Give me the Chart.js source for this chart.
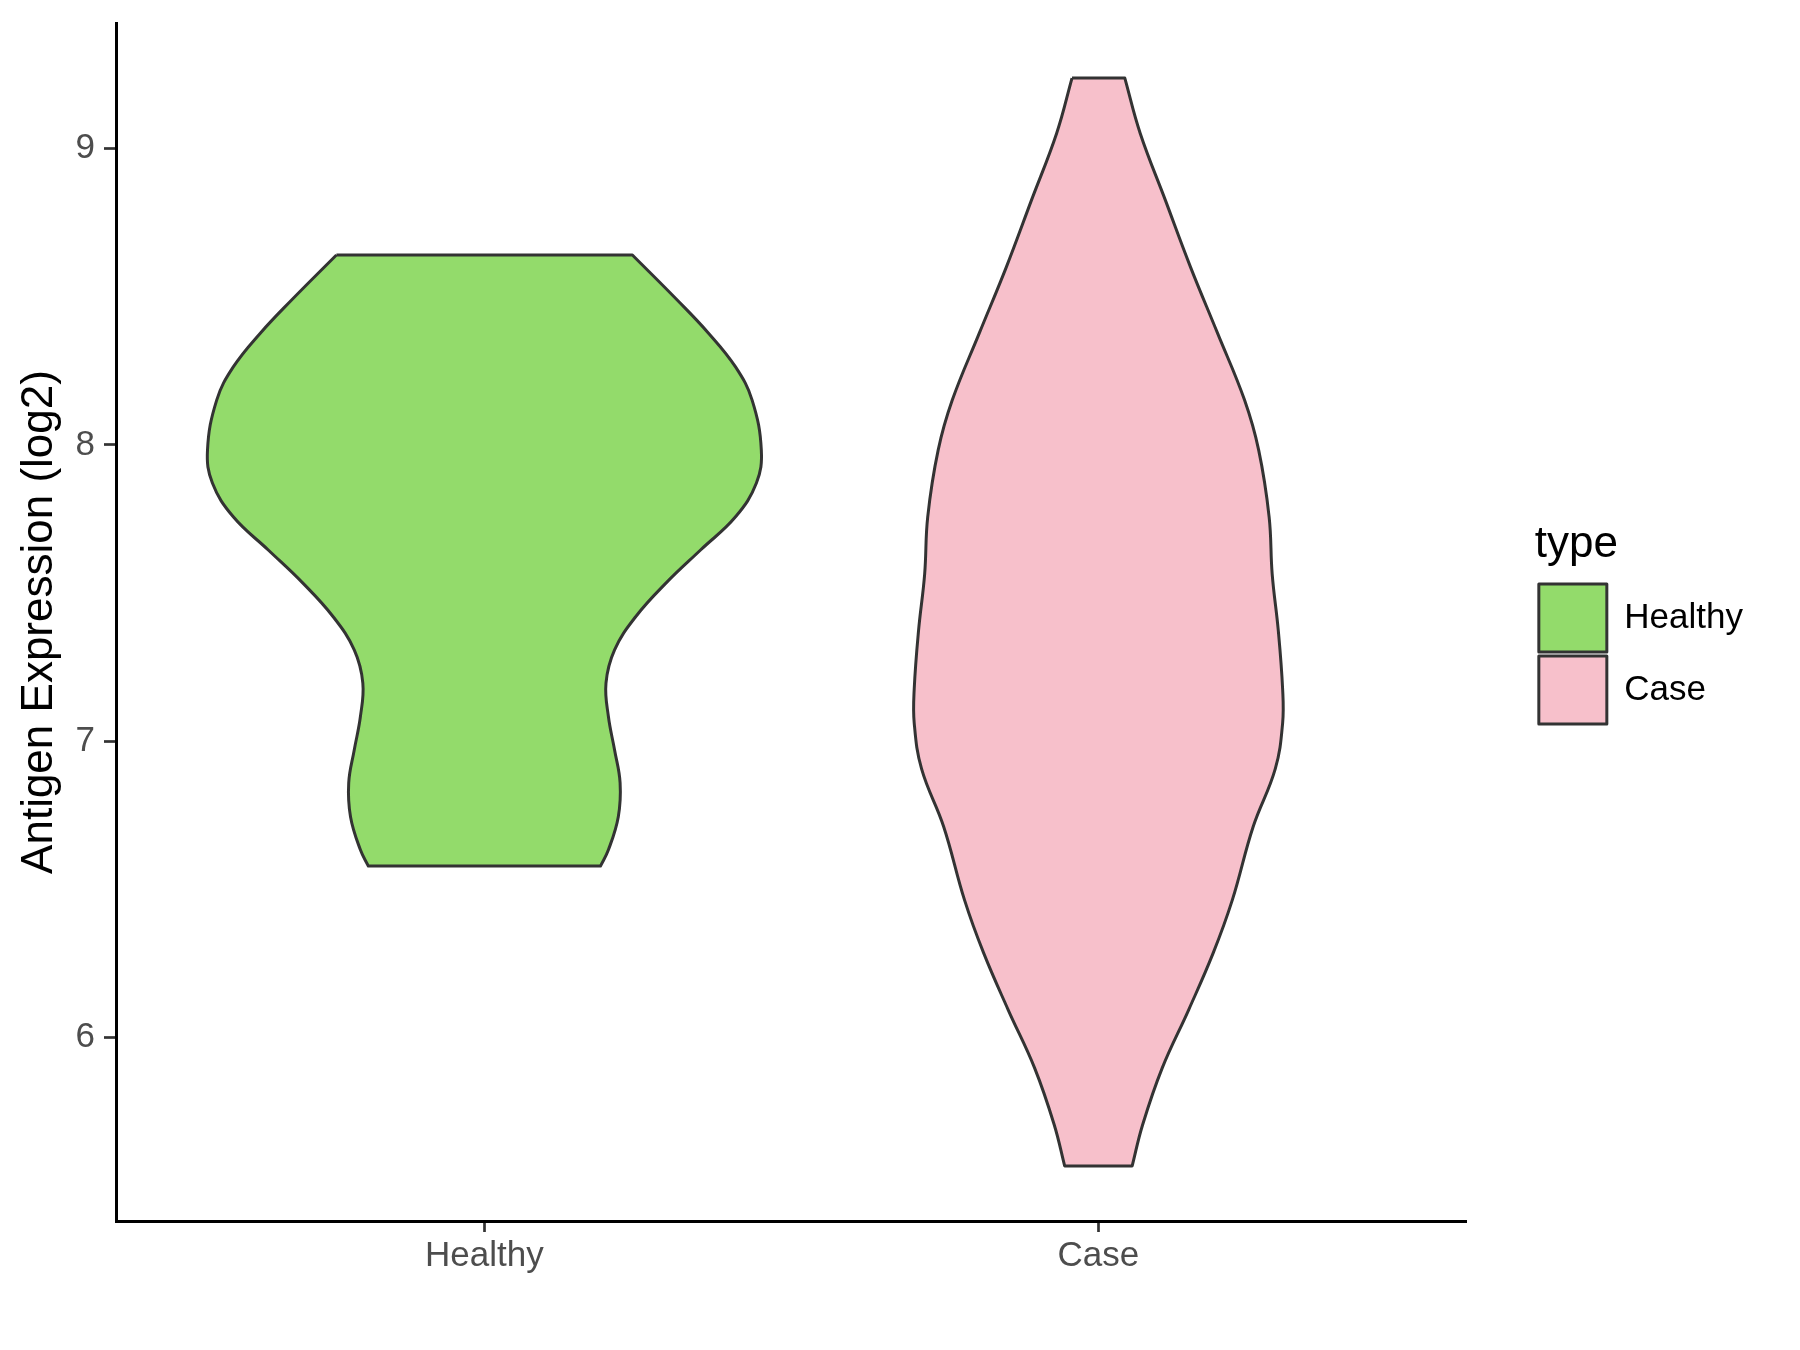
<!DOCTYPE html>
<html>
<head>
<meta charset="utf-8">
<script src="https://cdn.jsdelivr.net/npm/chart.js@4.4.1/dist/chart.umd.min.js"></script>
<style>
  html, body { margin: 0; padding: 0; background: #ffffff; }
  #wrap { width: 1800px; height: 1350px; }
</style>
</head>
<body>
<div id="wrap"><canvas id="c" width="1800" height="1350"></canvas></div>
<script>
// ---- data ----
const categories = ['Healthy', 'Case'];
const seriesColors = ['#93DB6B', '#F7C0CB'];
const yTicks = [6, 7, 8, 9];
const yMin = 5.38;
const yMax = 9.424;

// Healthy violin: expression values (top -> bottom) and half-widths (in category units)
const healthyY = [8.641, 8.489, 8.377, 8.263, 8.151, 7.982, 7.871, 7.757, 7.645, 7.534, 7.419, 7.308, 7.196, 7.082, 6.970, 6.859, 6.744, 6.633, 6.578];
const healthyHalfWidth = [0.241, 0.314, 0.365, 0.409, 0.436, 0.451, 0.443, 0.409, 0.352, 0.296, 0.246, 0.212, 0.198, 0.202, 0.212, 0.221, 0.218, 0.202, 0.189];

// Case violin
const caseY = [9.238, 9.052, 8.826, 8.600, 8.377, 8.151, 7.982, 7.757, 7.564, 7.372, 7.176, 7.061, 6.906, 6.711, 6.463, 6.285, 6.093, 5.897, 5.705, 5.566];
const caseHalfWidth = [0.043, 0.068, 0.109, 0.150, 0.194, 0.238, 0.261, 0.278, 0.283, 0.293, 0.300, 0.300, 0.288, 0.252, 0.218, 0.187, 0.147, 0.104, 0.072, 0.055];

// ---- build closed violin outlines from the arrays ----
function violinOutline(center, ys, ws) {
  const pts = [];
  const n = ys.length;
  // left side, top -> bottom (corners duplicated to keep them sharp)
  pts.push({ x: center - ws[0], y: ys[0] });
  for (let i = 0; i < n; i++) pts.push({ x: center - ws[i], y: ys[i] });
  pts.push({ x: center - ws[n - 1], y: ys[n - 1] });
  // right side, bottom -> top
  pts.push({ x: center + ws[n - 1], y: ys[n - 1] });
  for (let i = n - 1; i >= 0; i--) pts.push({ x: center + ws[i], y: ys[i] });
  pts.push({ x: center + ws[0], y: ys[0] });
  // close
  pts.push({ x: center - ws[0], y: ys[0] });
  return pts;
}

const FONT = 'Liberation Sans, Arial, Helvetica, sans-serif';
const OUTLINE = '#333333';

const datasets = categories.map((name, i) => ({
  label: name,
  data: i === 0 ? violinOutline(1, healthyY, healthyHalfWidth) : violinOutline(2, caseY, caseHalfWidth),
  backgroundColor: seriesColors[i],
  borderColor: OUTLINE,
  borderWidth: 3,
  borderJoinStyle: 'round',
  fill: 'shape',
  tension: 0.4,
  pointRadius: 0,
  pointHoverRadius: 0
}));

new Chart(document.getElementById('c'), {
  type: 'line',
  data: { datasets },
  options: {
    responsive: false,
    devicePixelRatio: 1,
    animation: false,
    events: [],
    layout: { padding: { left: 0, top: 23, right: 47, bottom: 0 } },
    plugins: {
      tooltip: { enabled: false },
      legend: {
        display: true,
        position: 'right',
        align: 'center',
        fullSize: false,
        title: {
          display: true,
          text: 'type',
          position: 'start',
          color: '#000000',
          font: { family: FONT, size: 44, lineHeight: 1.2 },
          padding: { top: 7, bottom: 4.2 }
        },
        labels: {
          color: '#000000',
          font: { family: FONT, size: 35 },
          boxWidth: 68,
          boxHeight: 68,
          padding: 4
        }
      }
    },
    scales: {
      x: {
        type: 'linear',
        min: 0.4,
        max: 2.6,
        offset: false,
        afterBuildTicks: (s) => { s.ticks = categories.map((c, i) => ({ value: i + 1 })); },
        afterFit: (s) => { s.height = 129; s.paddingLeft = 0; s.paddingRight = 0; },
        ticks: {
          autoSkip: false,
          maxRotation: 0,
          minRotation: 0,
          padding: 3,
          color: '#4D4D4D',
          font: { family: FONT, size: 35 },
          callback: (v) => categories[Math.round(v) - 1]
        },
        grid: {
          display: true,
          drawOnChartArea: false,
          drawTicks: true,
          tickLength: 11,
          tickWidth: 2.7,
          tickColor: '#333333'
        },
        border: { display: true, color: '#000000', width: 3 }
      },
      y: {
        type: 'linear',
        position: 'left',
        min: yMin,
        max: yMax,
        afterBuildTicks: (s) => { s.ticks = yTicks.map(v => ({ value: v })); },
        afterFit: (s) => { s.width = 116; s.paddingTop = 0; s.paddingBottom = 0; },
        ticks: {
          padding: 9,
          color: '#4D4D4D',
          font: { family: FONT, size: 35 },
          callback: (v) => String(v)
        },
        grid: {
          display: true,
          drawOnChartArea: false,
          drawTicks: true,
          tickLength: 12,
          tickWidth: 2.7,
          tickColor: '#333333'
        },
        border: { display: true, color: '#000000', width: 3 },
        title: {
          display: true,
          text: 'Antigen Expression (log2)',
          color: '#000000',
          font: { family: FONT, size: 44, lineHeight: 1.2 },
          padding: { top: 13.6, bottom: 0 }
        }
      },
      spacer: {
        type: 'linear',
        position: 'right',
        display: true,
        grid: { display: false },
        border: { display: false },
        ticks: { display: false },
        afterFit: (s) => { s.width = 68; s.paddingTop = 0; s.paddingBottom = 0; }
      }
    }
  }
});
</script>
</body>
</html>
